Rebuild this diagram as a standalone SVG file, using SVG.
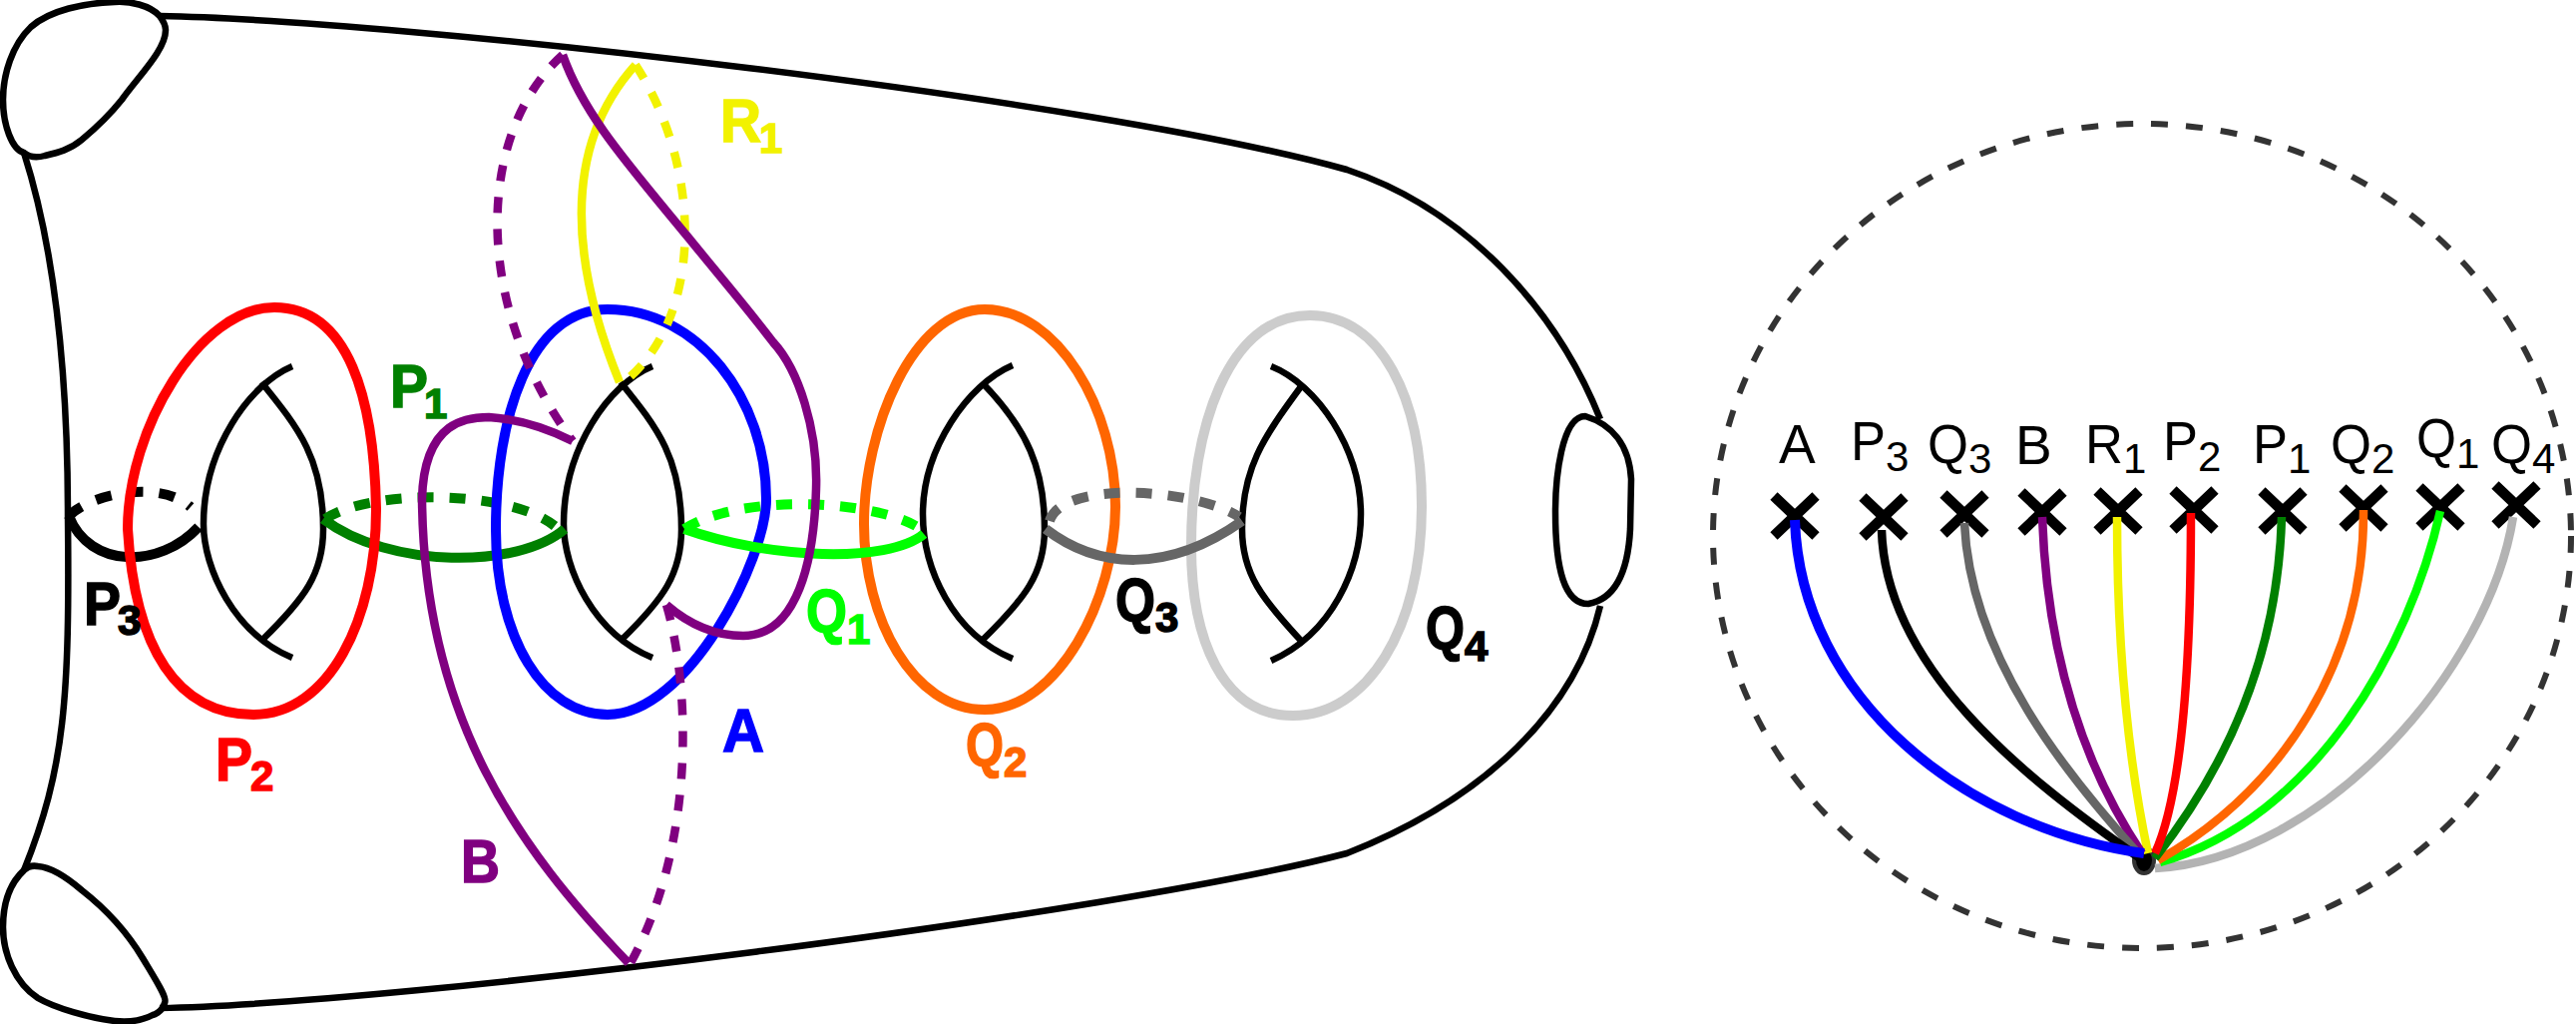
<svg xmlns="http://www.w3.org/2000/svg" width="2582" height="1026" viewBox="0 0 2582 1026">
<style>
path,line,ellipse{fill:none;stroke-linejoin:round}
.b{stroke:#000;stroke-width:6.5}
.l{stroke-width:10}
.c{stroke-width:8.5}
.d{stroke-dasharray:16 16}
.t{font:bold 62px "Liberation Sans",Arial,sans-serif;stroke-width:1.5}
.s{font:bold 42px "Liberation Sans",Arial,sans-serif;stroke-width:1.5}
.u{font:55px "Liberation Sans",Arial,sans-serif;fill:#000}
.v{font:42px "Liberation Sans",Arial,sans-serif;fill:#000}
.x{stroke:#000;stroke-width:10.5}
</style>
<g id="surface">
<path class="b" d="M160,16C400,20 1100,100 1350,170C1470,210 1560,310 1604,420"/>
<path class="b" d="M1604,607C1580,710 1490,800 1350,855C1120,915 400,1006 160,1010"/>
<path class="b" d="M24,153C55,250 68,370 68,517C70,700 65,770 24,872"/>
<path class="b" d="M160,16C150,5 130,1 115,2C85,3 50,10 31,27C12,45 3,75 3,100C3,125 12,150 24,153C30,158 38,158 45,156C58,153 70,150 82,140C100,125 110,115 122,100C140,75 166,50 166,30C166,25 163,20 160,16Z"/>
<path class="b" d="M24,872C28,868 33,867 38,868C52,869 68,880 82,892C105,910 125,930 143,960C158,985 168,1000 165,1005C162,1015 153,1017 153,1017C140,1024 125,1024 115,1023C90,1020 55,1010 38,1000C15,985 3,955 3,929C3,905 10,885 24,872Z"/>
<path class="b" d="M1589,417C1565,417 1559,480 1559,513C1559,570 1568,605 1592,605C1620,600 1632,570 1634,530L1635,480C1633,445 1615,425 1589,417Z"/>
</g>
<g id="handle-1"><path class="b" d="M293,367C250,385 204,450 204,525C204,570 235,635 293,659"/><path class="b" d="M262,383C300,430 324,460 324,530C324,575 305,600 263,641"/></g>
<g id="handle-2"><path class="b" d="M654,367C610,385 565,450 565,525C565,570 595,635 654,659"/><path class="b" d="M622,383C660,430 683,460 683,530C683,575 665,600 623,641"/></g>
<g id="handle-3"><path class="b" d="M1015,366C970,385 925,450 925,515C925,570 955,635 1015,660"/><path class="b" d="M984,383C1030,430 1047,470 1047,530C1047,575 1027,600 984,642"/></g>
<g id="handle-4"><path class="b" d="M1274,367C1320,385 1364,450 1364,515C1364,570 1335,635 1274,662"/><path class="b" d="M1305,386C1265,440 1245,470 1245,530C1245,575 1265,600 1305,643"/></g>
<g id="curves-left">
<path class="l d" stroke="#000" d="M69,517C90,495 160,480 191,508"/>
<path class="l" stroke="#000" d="M69,517C90,570 160,570 199,528"/>
<path class="l d" stroke="#008000" d="M326,520C370,490 510,490 556,527"/>
<path class="l" stroke="#008000" d="M324,520C390,570 520,570 566,530"/>
<path class="l" stroke="#ff0000" d="M275,308C200,308 128,430 128,530C135,650 178,716 254,716C330,716 377,620 377,510C375,400 350,308 275,308Z"/>
<path class="l" stroke="#0000ff" d="M609,310C530,310 497,420 497,530C497,640 545,716 609,716C690,716 768,560 768,500C768,400 700,310 609,310Z"/>
<path class="l" stroke="#ff6600" d="M987,310C915,310 866,430 866,525C866,620 915,711 987,711C1060,711 1118,600 1118,507C1118,410 1060,310 987,310Z"/>
<path class="l" stroke="#cccccc" d="M1313,316C1230,316 1194,430 1194,547C1194,640 1225,717 1296,717C1370,717 1425,630 1425,507C1425,400 1385,316 1313,316Z"/>
<path class="l d" stroke="#00ff00" d="M686,530C740,495 870,500 918,527"/>
<path class="l" stroke="#00ff00" d="M686,530C770,560 890,565 926,535"/>
<path class="l d" stroke="#666666" d="M1052,522C1065,480 1200,490 1242,518"/>
<path class="l" stroke="#666666" d="M1048,530C1100,570 1170,575 1245,522"/>
<path class="c" stroke="#f2f200" d="M621,383C575,270 560,150 637,65"/>
<path class="c d" stroke="#f2f200" d="M637,65C705,170 705,320 625,383"/>
<path class="c d" stroke="#800080" d="M564,55C480,130 470,300 574,442"/>
<path class="c" stroke="#800080" d="M564,55C585,115 630,165 690,238C720,275 750,310 775,343C800,370 820,430 818,490C816,560 800,637 745,637C715,637 690,625 668,606"/>
<path class="c d" stroke="#800080" d="M668,606C690,680 700,840 632,965"/>
<path class="c" stroke="#800080" d="M630,965C520,850 425,720 423,500C425,420 470,418 490,418C520,420 550,430 574,442"/>
</g>
<g id="labels-left">
<text class="t" x="722" y="142" fill="#f2f200" stroke="#f2f200" textLength="41" lengthAdjust="spacingAndGlyphs">R</text><text class="s" x="761" y="153" fill="#f2f200" stroke="#f2f200">1</text>
<text class="t" x="391" y="408" fill="#008000" stroke="#008000" textLength="38" lengthAdjust="spacingAndGlyphs">P</text><text class="s" x="425" y="419" fill="#008000" stroke="#008000">1</text>
<text class="t" x="84" y="626" fill="#000" stroke="#000" textLength="37" lengthAdjust="spacingAndGlyphs">P</text><text class="s" x="118" y="636" fill="#000" stroke="#000">3</text>
<text class="t" x="216" y="782" fill="#f00" stroke="#f00" textLength="37" lengthAdjust="spacingAndGlyphs">P</text><text class="s" x="251" y="792" fill="#f00" stroke="#f00">2</text>
<text class="t" x="724" y="753" fill="#0000ff" stroke="#0000ff" textLength="42" lengthAdjust="spacingAndGlyphs">A</text>
<text class="t" x="462" y="884" fill="#800080" stroke="#800080" textLength="39" lengthAdjust="spacingAndGlyphs">B</text>
<text class="t" x="808" y="633" fill="#00ff00" stroke="#00ff00" textLength="41" lengthAdjust="spacingAndGlyphs">Q</text><text class="s" x="849" y="645" fill="#00ff00" stroke="#00ff00">1</text>
<text class="t" x="968" y="767" fill="#ff6600" stroke="#ff6600" textLength="38" lengthAdjust="spacingAndGlyphs">Q</text><text class="s" x="1006" y="778" fill="#ff6600" stroke="#ff6600">2</text>
<text class="t" x="1118" y="622" fill="#000" stroke="#000" textLength="40" lengthAdjust="spacingAndGlyphs">Q</text><text class="s" x="1158" y="633" fill="#000" stroke="#000">3</text>
<text class="t" x="1429" y="650" fill="#000" stroke="#000" textLength="39" lengthAdjust="spacingAndGlyphs">Q</text><text class="s" x="1468" y="662" fill="#000" stroke="#000">4</text>
</g>
<g id="disk"><ellipse cx="2147" cy="537" rx="430" ry="413" stroke="#333" stroke-width="6" stroke-dasharray="17 18"/></g>
<g id="crosses">
<path class="x" d="M1778,497L1820,537M1820,497L1778,537"/>
<path class="x" d="M1867,498L1909,538M1909,498L1867,538"/>
<path class="x" d="M1948,495L1990,535M1990,495L1948,535"/>
<path class="x" d="M2026,493L2068,533M2068,493L2026,533"/>
<path class="x" d="M2102,492L2144,532M2144,492L2102,532"/>
<path class="x" d="M2178,491L2220,531M2220,491L2178,531"/>
<path class="x" d="M2267,492L2309,532M2309,492L2267,532"/>
<path class="x" d="M2348,489L2390,529M2390,489L2348,529"/>
<path class="x" d="M2425,488L2467,528M2467,488L2425,528"/>
<path class="x" d="M2501,486L2543,526M2543,486L2501,526"/>
</g>
<g id="connectors">
<ellipse cx="2149" cy="862" rx="10" ry="13" stroke="#333" stroke-width="4" style="fill:#000"/>
<path class="c" stroke="#b3b3b3" d="M2519,518C2495,670 2330,860 2160,870"/>
<path class="c" stroke="#00ff00" d="M2446,512C2415,650 2320,820 2165,864"/>
<path class="c" stroke="#ff6600" d="M2369,511C2370,660 2290,790 2163,862"/>
<path class="c" stroke="#008000" d="M2287,518C2283,660 2230,770 2160,860"/>
<path class="c" stroke="#ff0000" d="M2196,514C2196,640 2190,790 2160,855"/>
<path class="c" stroke="#f2f200" d="M2122,518C2122,660 2135,770 2153,855"/>
<path class="c" stroke="#800080" d="M2047,518C2052,660 2090,770 2147,855"/>
<path class="c" stroke="#666666" d="M1969,524C1975,660 2075,780 2143,855"/>
<path class="c" stroke="#000" d="M1886,531C1890,670 2030,780 2145,860"/>
<path class="l" stroke="#0000ff" d="M1799,521C1805,700 1970,830 2149,855"/>
</g>
<g id="labels-right">
<text class="u" x="1783" y="464">A</text>
<text class="u" x="1855" y="461" textLength="35" lengthAdjust="spacingAndGlyphs">P</text><text class="v" x="1890" y="472">3</text>
<text class="u" x="1932" y="464" textLength="41" lengthAdjust="spacingAndGlyphs">Q</text><text class="v" x="1973" y="474">3</text>
<text class="u" x="2020" y="465">B</text>
<text class="u" x="2090" y="464" textLength="38" lengthAdjust="spacingAndGlyphs">R</text><text class="v" x="2128" y="474">1</text>
<text class="u" x="2168" y="461" textLength="35" lengthAdjust="spacingAndGlyphs">P</text><text class="v" x="2203" y="472">2</text>
<text class="u" x="2258" y="464" textLength="35" lengthAdjust="spacingAndGlyphs">P</text><text class="v" x="2293" y="474">1</text>
<text class="u" x="2336" y="464" textLength="41" lengthAdjust="spacingAndGlyphs">Q</text><text class="v" x="2377" y="474">2</text>
<text class="u" x="2422" y="458" textLength="40" lengthAdjust="spacingAndGlyphs">Q</text><text class="v" x="2462" y="469">1</text>
<text class="u" x="2497" y="464" textLength="41" lengthAdjust="spacingAndGlyphs">Q</text><text class="v" x="2538" y="474">4</text>
</g>
</svg>
